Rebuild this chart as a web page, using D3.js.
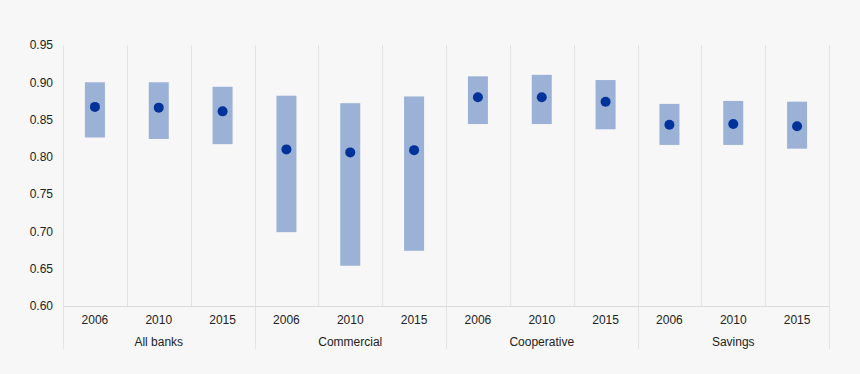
<!DOCTYPE html>
<html>
<head>
<meta charset="utf-8">
<script src="https://cdn.jsdelivr.net/npm/d3@7"></script>
<style>
  body { margin: 0; background: #f7f7f7; }
  text { font-family: "Liberation Sans", Arial, sans-serif; font-size: 12px; fill: #222; }
</style>
</head>
<body>
<div id="chart"></div>
<script>
var groups = ["All banks", "Commercial", "Cooperative", "Savings"];
var years = ["2006", "2010", "2015"];
var highs = [0.900, 0.900, 0.894, 0.882, 0.872, 0.881, 0.908, 0.910, 0.903, 0.871, 0.875, 0.874];
var lows  = [0.826, 0.824, 0.817, 0.699, 0.654, 0.674, 0.844, 0.844, 0.837, 0.816, 0.816, 0.811];
var means = [0.867, 0.866, 0.861, 0.810, 0.806, 0.809, 0.880, 0.880, 0.874, 0.843, 0.844, 0.841];
var yTicks = [0.60, 0.65, 0.70, 0.75, 0.80, 0.85, 0.90, 0.95];

var wdth = 860, hght = 374;
var margin = {top: 45, right: 31, bottom: 68, left: 63},
    width = wdth - margin.left - margin.right,
    height = hght - margin.top - margin.bottom;

var data = [];
groups.forEach(function(g, gi){
  years.forEach(function(yr, yi){
    var i = gi*years.length + yi;
    data.push({key: g + "|" + yr, group: g, year: yr, hi: highs[i], lo: lows[i], mean: means[i]});
  });
});

var svg = d3.select("#chart")
  .append("svg")
    .attr("width", wdth)
    .attr("height", hght)
  .append("g")
    .attr("transform", "translate(" + margin.left + "," + margin.top + ")");

var x = d3.scaleBand()
  .domain(data.map(function(d){ return d.key }))
  .range([0, width]);

var y = d3.scaleLinear()
  .domain([0.60, 0.95])
  .range([height, 0]);

// vertical gridlines between categories
svg.selectAll(".vgrid")
  .data(data)
  .enter()
  .append("line")
    .attr("x1", function(d){ return Math.round(x(d.key)) + 0.5 })
    .attr("x2", function(d){ return Math.round(x(d.key)) + 0.5 })
    .attr("y1", 0)
    .attr("y2", height)
    .attr("stroke", "#e3e3e3");

// group separators reaching down through the labels
var gw = x.bandwidth() * years.length;
svg.selectAll(".gsep")
  .data(d3.range(groups.length + 1))
  .enter()
  .append("line")
    .attr("x1", function(i){ return Math.round(i*gw) + 0.5 })
    .attr("x2", function(i){ return Math.round(i*gw) + 0.5 })
    .attr("y1", function(i){ return i == groups.length ? 0 : height })
    .attr("y2", height + 43)
    .attr("stroke", "#e3e3e3");

// x axis line
svg.append("line")
  .attr("x1", 0).attr("x2", width)
  .attr("y1", height + 0.5).attr("y2", height + 0.5)
  .attr("stroke", "#dcdcdc");

// y axis labels
var yAxis = svg.append("g")
  .call(d3.axisLeft(y).tickValues(yTicks).tickFormat(d3.format(".2f")).tickSize(0).tickPadding(10));
yAxis.select(".domain").remove();
yAxis.selectAll("text").style("font-size", "12px").style("fill", "#222").style("font-family", "Liberation Sans, Arial, sans-serif");

// range bars
var bw = 20;
svg.selectAll(".bar")
  .data(data)
  .enter()
  .append("rect")
    .attr("x", function(d){ return x(d.key) + x.bandwidth()/2 - bw/2 })
    .attr("y", function(d){ return y(d.hi) })
    .attr("width", bw)
    .attr("height", function(d){ return y(d.lo) - y(d.hi) })
    .attr("fill", "#9bb1d6");

// means
svg.selectAll(".dot")
  .data(data)
  .enter()
  .append("circle")
    .attr("cx", function(d){ return x(d.key) + x.bandwidth()/2 })
    .attr("cy", function(d){ return y(d.mean) })
    .attr("r", 5)
    .attr("fill", "#003399");

// year labels
svg.selectAll(".yr")
  .data(data)
  .enter()
  .append("text")
    .attr("x", function(d){ return x(d.key) + x.bandwidth()/2 })
    .attr("y", height + 18)
    .attr("text-anchor", "middle")
    .text(function(d){ return d.year });

// group labels
svg.selectAll(".grp")
  .data(groups)
  .enter()
  .append("text")
    .attr("x", function(d, i){ return i*gw + gw/2 })
    .attr("y", height + 40)
    .attr("text-anchor", "middle")
    .text(function(d){ return d });
</script>
</body>
</html>
